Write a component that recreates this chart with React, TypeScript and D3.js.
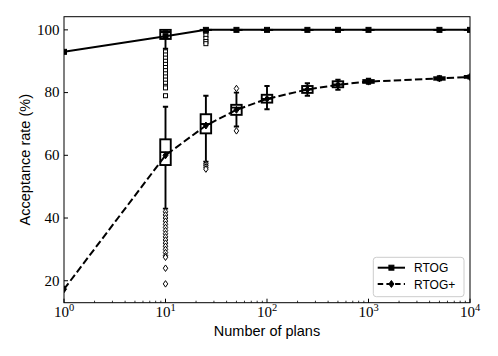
import React from 'react';
import * as d3 from 'd3';

const planCounts = [1, 10, 25, 50, 100, 250, 500, 1000, 5000, 10000];
const rtogMean = [93, 98, 100, 100, 100, 100, 100, 100, 100, 100];
const rtogPlusMean = [17.3, 60, 69.5, 74.5, 78, 81, 82.5, 83.5, 84.5, 85];

// [whiskerLow, q1, median, q3, whiskerHigh]
const rtogBoxes = [
  null,
  [94, 97.1, 99.3, 100, 100],
  [100, 100, 100, 100, 100],
  [100, 100, 100, 100, 100],
  [100, 100, 100, 100, 100],
  [100, 100, 100, 100, 100],
  [100, 100, 100, 100, 100],
  [100, 100, 100, 100, 100],
  [100, 100, 100, 100, 100],
  [100, 100, 100, 100, 100],
];
const rtogOutliers = [
  [],
  [93, 92, 91, 90, 89, 88, 87, 86, 85, 84, 83, 82, 81.5, 79],
  [99.3, 98.3, 97.3, 96.3, 95.6],
  [], [], [], [], [], [], [],
];
const rtogPlusBoxes = [
  null,
  [43, 56.9, 61, 65.1, 75.5],
  [58, 67, 70, 73.1, 79],
  [69.2, 72.9, 75.2, 76.1, 80],
  [74.7, 76.8, 78, 79.3, 82.1],
  [79, 79.9, 81, 82.1, 83],
  [80.9, 81.7, 82.6, 83.6, 84.1],
  [82.8, 83.1, 83.5, 84, 84.4],
  [83.9, 84.1, 84.5, 84.9, 85.2],
  [84.5, 84.7, 85, 85.3, 85.5],
];
const rtogPlusOutliers = [
  [],
  [42, 41, 40, 39, 38, 37, 36, 35, 34, 33, 32, 31, 30, 29, 28, 27.5, 24, 19],
  [57.3, 56.8, 56.2, 55.6],
  [81.3, 67.8],
  [], [], [], [], [], [],
];

const yTicks = [20, 40, 60, 80, 100];
const xTickExps = [0, 1, 2, 3, 4];
const seriesNames = ['RTOG', 'RTOG+'];

const W = 498, H = 356;
const M = { left: 64, right: 470, top: 16.7, bottom: 302.7 };

export default function App() {
  const x = d3.scaleLog().domain([1, 10000]).range([M.left, M.right]);
  const y = d3.scaleLinear().domain([13.0, 104.2]).range([M.bottom, M.top]);
  const line = d3.line<number>().x((_, i) => x(planCounts[i])).y((d) => y(d));

  const minorTicks: number[] = [];
  for (let e = 0; e < 4; e++) for (let k = 2; k <= 9; k++) minorTicks.push(k * Math.pow(10, e));

  const bw = 10.5;
  const lw = 1.9;

  const renderBox = (b: number[] | null, i: number) => {
    if (!b) return null;
    const cx = x(planCounts[i]);
    const [wl, q1, med, q3, wh] = b;
    return (
      <g key={i} stroke="#000" strokeWidth={lw} fill="none">
        <rect x={cx - bw / 2} y={y(q3)} width={bw} height={Math.max(0.01, y(q1) - y(q3))} />
        <line x1={cx - bw / 2} x2={cx + bw / 2} y1={y(med)} y2={y(med)} />
        <line x1={cx} x2={cx} y1={y(q3)} y2={y(wh)} />
        <line x1={cx} x2={cx} y1={y(q1)} y2={y(wl)} />
        <line x1={cx - bw / 4} x2={cx + bw / 4} y1={y(wh)} y2={y(wh)} />
        <line x1={cx - bw / 4} x2={cx + bw / 4} y1={y(wl)} y2={y(wl)} />
      </g>
    );
  };

  const square = (cx: number, cy: number, s: number, fill: string, sw: number, key: any) => (
    <rect key={key} x={cx - s / 2} y={cy - s / 2} width={s} height={s} fill={fill} stroke="#000" strokeWidth={sw} />
  );
  const diamond = (cx: number, cy: number, w: number, h: number, fill: string, sw: number, key: any) => (
    <path key={key} d={`M${cx},${cy - h / 2}L${cx + w / 2},${cy}L${cx},${cy + h / 2}L${cx - w / 2},${cy}Z`} fill={fill} stroke="#000" strokeWidth={sw} />
  );

  return (
    <svg width={W} height={H} style={{ position: 'absolute', left: 0, top: 0, background: '#fff' }}>
      <defs>
        <clipPath id="plot">
          <rect x={M.left} y={M.top} width={M.right - M.left} height={M.bottom - M.top} />
        </clipPath>
      </defs>
      <rect x={0} y={0} width={W} height={H} fill="#fff" />
      <g clipPath="url(#plot)">
        <path d={line(rtogMean) || ''} fill="none" stroke="#000" strokeWidth={2} />
        <path d={line(rtogPlusMean) || ''} fill="none" stroke="#000" strokeWidth={2} strokeDasharray="7.4 3.2" />
        {rtogBoxes.map(renderBox)}
        {rtogPlusBoxes.map(renderBox)}
        {rtogOutliers.map((arr, i) => arr.map((v, j) => square(x(planCounts[i]), y(v), 4, '#fff', 1, `ro${i}-${j}`)))}
        {rtogPlusOutliers.map((arr, i) => arr.map((v, j) => diamond(x(planCounts[i]), y(v), 4.5, 6.5, '#fff', 1, `po${i}-${j}`)))}
        {rtogMean.map((v, i) => square(x(planCounts[i]), y(v), 5, '#000', 1, `rm${i}`))}
        {rtogPlusMean.map((v, i) => diamond(x(planCounts[i]), y(v), 5, 7, '#000', 1, `pm${i}`))}
      </g>
      {/* axes frame */}
      <rect x={M.left} y={M.top} width={M.right - M.left} height={M.bottom - M.top} fill="none" stroke="#000" strokeWidth={1} />
      {/* x ticks */}
      {xTickExps.map((e) => {
        const px = x(Math.pow(10, e));
        return (
          <g key={`xt${e}`}>
            <line x1={px} x2={px} y1={M.bottom} y2={M.bottom - 4} stroke="#000" strokeWidth={1} />
            <text x={px} y={317} textAnchor="middle" fontFamily="Liberation Serif" fontSize={15} fill="#000">
              <tspan>10</tspan>
              <tspan dy={-6} fontSize={10.5}>{e}</tspan>
            </text>
          </g>
        );
      })}
      {minorTicks.map((v) => (
        <line key={`mt${v}`} x1={x(v)} x2={x(v)} y1={M.bottom} y2={M.bottom - 2} stroke="#000" strokeWidth={0.8} />
      ))}
      {/* y ticks */}
      {yTicks.map((v) => (
        <g key={`yt${v}`}>
          <line x1={M.left} x2={M.left + 4} y1={y(v)} y2={y(v)} stroke="#000" strokeWidth={1} />
          <text x={59.5} y={y(v) + 4.8} textAnchor="end" fontFamily="Liberation Serif" fontSize={15} fill="#000">{v}</text>
        </g>
      ))}
      <text x={(M.left + M.right) / 2} y={336} textAnchor="middle" fontFamily="Liberation Sans" fontSize={14.5} fill="#000">Number of plans</text>
      <text transform={`translate(30,${(M.top + M.bottom) / 2}) rotate(-90)`} textAnchor="middle" fontFamily="Liberation Sans" fontSize={14.5} fill="#000">Acceptance rate (%)</text>
      {/* legend */}
      <g>
        <rect x={373.3} y={257.3} width={90.7} height={39.4} rx={3} fill="#fff" fillOpacity={0.8} stroke="#ccc" strokeWidth={1} />
        <line x1={377.7} x2={405} y1={267.7} y2={267.7} stroke="#000" strokeWidth={2} />
        {square(391.4, 267.7, 5, '#000', 1, 'lg1')}
        <text x={414} y={272} fontFamily="Liberation Sans" fontSize={12} fill="#000">{seriesNames[0]}</text>
        <line x1={377.7} x2={405} y1={284} y2={284} stroke="#000" strokeWidth={2} strokeDasharray="5.5 3.2" />
        {diamond(391.4, 284, 5, 7, '#000', 1, 'lg2')}
        <text x={414} y={288.5} fontFamily="Liberation Sans" fontSize={12} fill="#000">{seriesNames[1]}</text>
      </g>
    </svg>
  );
}
